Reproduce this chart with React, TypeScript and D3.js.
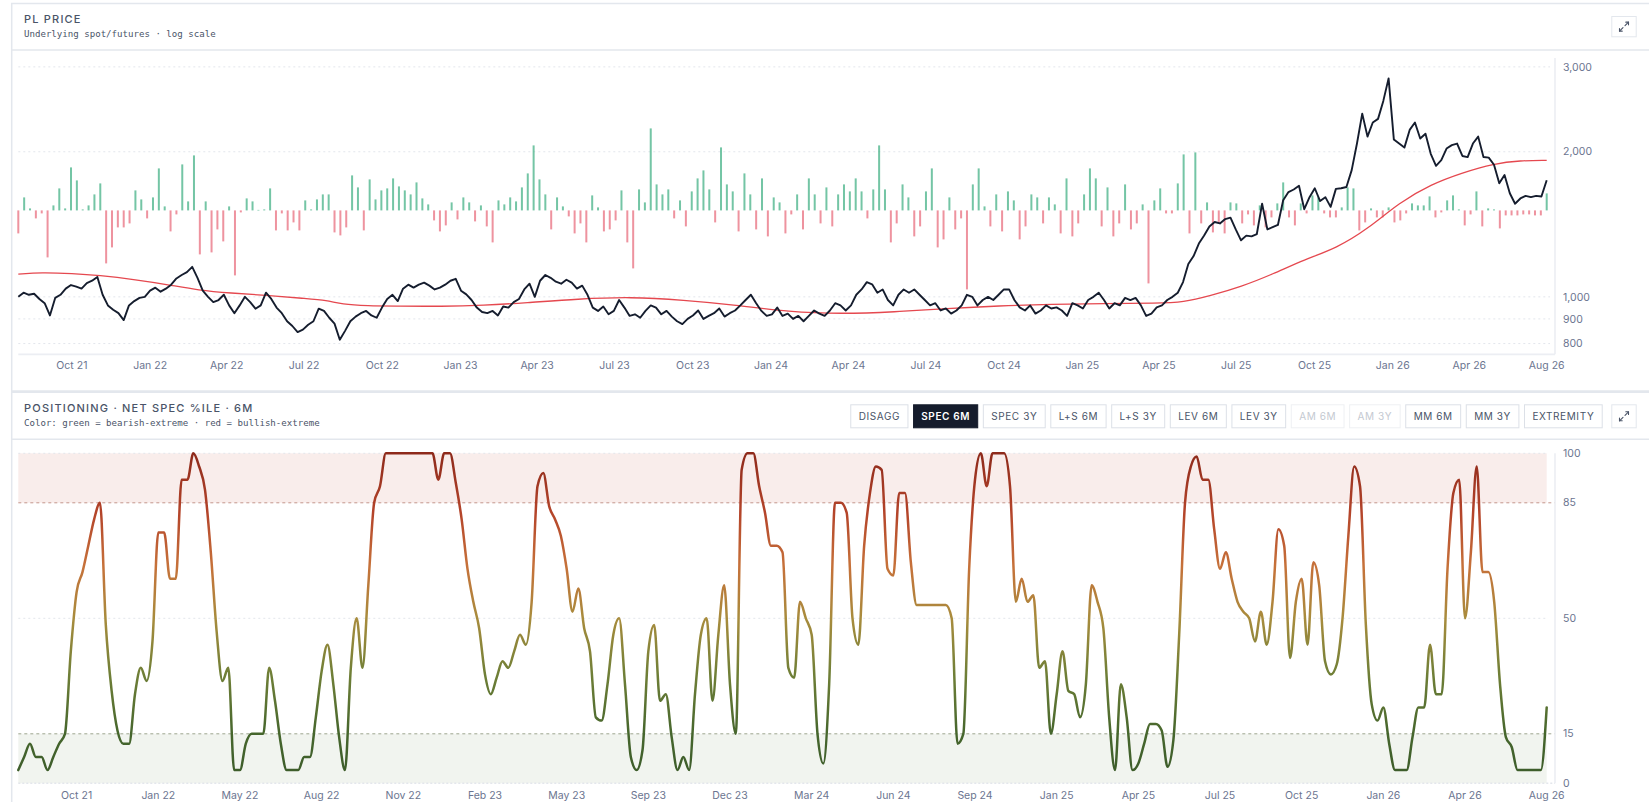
import React, { useMemo } from "react";
import * as d3 from "d3";

const W = 1649;
const H = 802;

// ---------- PRICE PANEL DATA ----------
const priceStart = "2021-07-30";
const priceEnd = "2026-07-01";

// PL price, sampled evenly across the window
const priceValues = [
  1000, 1020, 1010, 1015, 990, 970, 915, 995, 1010, 1040, 1058, 1050, 1040, 1068, 1080, 1100, 1010, 960, 940, 925,
  895, 960, 980, 995, 1000, 1030, 1045, 1025, 1040, 1060, 1092, 1110, 1125, 1154, 1095, 1030, 1000, 975, 985, 1010,
  960, 925, 960, 1000, 975, 945, 960, 1020, 990, 950, 925, 890, 870, 845, 855, 875, 890, 945, 935, 905,
  880, 815, 850, 890, 910, 925, 935, 915, 905, 950, 990, 1010, 980, 1040, 1060, 1045, 1060, 1070, 1055, 1036,
  1045, 1060, 1080, 1090, 1030, 1012, 985, 950, 930, 925, 935, 915, 955, 950, 975, 990, 1036, 1065, 1000, 1080,
  1110, 1095, 1075, 1065, 1085, 1070, 1040, 1055, 1010, 950, 935, 955, 920, 935, 985, 950, 913, 920, 905, 935,
  960, 950, 920, 935, 910, 890, 878, 900, 915, 937, 900, 913, 925, 946, 910, 925, 937, 960, 985, 1010,
  970, 935, 913, 920, 950, 913, 923, 900, 913, 890, 913, 937, 923, 913, 937, 970, 960, 937, 960, 1010,
  1036, 1073, 1062, 1020, 1036, 985, 960, 1010, 1036, 1020, 1036, 1010, 985, 960, 970, 937, 946, 923, 937, 960,
  1010, 1000, 960, 985, 1000, 985, 1010, 1036, 1036, 985, 951, 937, 960, 923, 937, 960, 946, 951, 937, 913,
  970, 960, 946, 985, 1000, 1020, 985, 946, 970, 960, 995, 985, 995, 960, 913, 923, 951, 960, 985, 1000,
  1020, 1073, 1170, 1215, 1290, 1340, 1400, 1430, 1420, 1450, 1460, 1380, 1310, 1340, 1335, 1350, 1560, 1380, 1395, 1410,
  1587, 1650, 1670, 1700, 1520, 1610, 1680, 1580, 1610, 1537, 1675, 1680, 1690, 1832, 2080, 2400, 2150, 2300, 2340, 2550,
  2840, 2120, 2080, 2040, 2220, 2300, 2131, 2180, 1980, 1870, 1921, 2031, 2064, 2080, 1960, 1950, 2080, 2150, 1951, 1945,
  1880, 1720, 1790, 1640, 1560, 1600, 1620, 1610, 1620, 1615, 1745,
];

// 200-day moving average
const maDates = [
  "2021-07-30", "2021-08-26", "2021-10-02", "2021-11-01", "2021-12-16", "2022-01-22", "2022-02-27", "2022-04-06",
  "2022-05-16", "2022-07-02", "2022-07-28", "2022-08-14", "2022-09-14", "2022-10-17", "2022-12-10", "2023-01-28",
  "2023-03-19", "2023-05-19", "2023-07-20", "2023-09-20", "2023-11-21", "2024-01-22", "2024-03-24", "2024-05-25",
  "2024-07-26", "2024-09-25", "2024-11-26", "2025-01-27", "2025-03-30", "2025-04-30", "2025-05-31", "2025-07-07",
  "2025-08-13", "2025-09-19", "2025-10-27", "2025-12-03", "2026-01-09", "2026-02-15", "2026-03-24", "2026-04-30",
  "2026-05-31", "2026-07-01",
];
const maValues = [
  1115, 1124, 1118, 1109, 1085, 1060, 1032, 1018, 1008, 992, 984, 965, 958, 957, 955, 960,
  972, 990, 1000, 985, 962, 930, 922, 930, 946, 958, 965, 968, 970, 975, 1005, 1050,
  1115, 1195, 1262, 1385, 1570, 1712, 1810, 1890, 1918, 1920,
];

// weekly change in net spec positioning (k contracts)
const flowValues = [
  -2.3, 1.3, 0.2, -0.8, -0.3, -4.7, 0.5, 2.2, 0.2, 4.3, 3.0, 0.1, 0.5, 1.6, 2.7, -5.3, -3.7, -1.7, -1.7, -1.3,
  2.0, 1.1, -0.8, 1.3, 4.2, 0.4, -2.1, -0.4, 4.6, 0.9, 5.5, -4.4, 0.9, -4.2, -1.9, -3.1, 0.4, -6.5, -0.2, 1.2,
  0.9, 0.05, 0.1, 2.2, -2.0, -0.3, -2.0, -1.2, -2.0, 1.0, 0.1, 1.1, 1.6, 1.6, -2.2, -2.5, -1.7, 3.5, 2.3, -2.0,
  3.1, 1.1, 2.0, 2.2, 3.2, 2.4, 2.0, 1.6, 2.8, 1.2, 0.6, -1.0, -2.1, -1.5, 0.8, -0.9, 1.3, 0.8, -1.1, 0.5,
  -1.6, -3.2, 1.0, 0.6, 1.3, 0.9, 2.3, 3.7, 6.5, 3.1, 1.6, -1.9, 1.3, 0.4, -0.6, -2.3, -1.3, -3.2, 1.5, 0.3,
  -2.1, -1.9, -1.0, 2.0, -3.2, -5.8, 2.1, 0.8, 8.2, 2.6, 1.6, 2.1, -0.8, 1.0, -1.6, 1.9, 3.2, 4.0, 2.1, -1.2,
  6.3, 2.6, 1.9, -2.1, 3.7, 1.6, -1.9, 3.2, -2.6, 1.3, 0.8, -2.3, -0.4, 1.6, -1.9, 3.2, 1.6, -1.3, 2.3, -1.6,
  1.6, 2.6, 1.9, 3.2, 1.9, -0.8, 2.1, 6.5, 2.1, -3.2, -1.3, 2.6, 1.3, -2.6, -1.6, 1.9, 4.2, -3.7, -2.9, 1.3,
  -1.9, -0.8, -7.9, 2.6, 4.2, 0.4, -1.6, 1.6, -2.1, 1.9, 1.0, -2.9, -1.6, 1.6, 1.3, -1.3, 1.3, 0.6, -2.3, 3.2,
  -2.6, -1.3, 1.6, 4.2, 3.2, -1.6, 2.3, -2.6, -1.3, 2.6, -1.9, -1.3, 0.6, -7.3, 1.0, 2.2, -0.3, -0.3, 2.7, 5.6,
  -2.3, 5.8, -1.3, 0.8, -2.2, -1.3, -2.3, 0.8, 0.7, -1.3, -0.4, -1.5, 0.5, -1.7, -0.7, 0.7, 2.8, -0.7, -1.5, 0.7,
  -0.3, 1.5, 1.3, -0.3, -0.7, -0.7, 0.3, 2.3, 2.2, -2.0, -1.2, 0.2, -0.7, -0.7, 0.3, -1.2, -1.0, -0.3, 0.7, 0.5,
  0.5, 1.4, -0.7, -0.2, 1.0, 1.5, 0.1, -1.5, -0.4, 1.9, -1.6, 0.2, 0.1, -1.8, -0.5, -0.5, -0.5, -0.4, -0.4, -0.5,
  -0.5, 1.7,
];

const priceTickDates = [
  "2021-10-01", "2022-01-01", "2022-04-01", "2022-07-01", "2022-10-01", "2023-01-01", "2023-04-01",
  "2023-07-01", "2023-10-01", "2024-01-01", "2024-04-01", "2024-07-01", "2024-10-01", "2025-01-01",
  "2025-04-01", "2025-07-01", "2025-10-01", "2026-01-01", "2026-04-01", "2026-07-01",
];
const priceTickLabels = [
  "Oct 21", "Jan 22", "Apr 22", "Jul 22", "Oct 22", "Jan 23", "Apr 23", "Jul 23", "Oct 23", "Jan 24",
  "Apr 24", "Jul 24", "Oct 24", "Jan 25", "Apr 25", "Jul 25", "Oct 25", "Jan 26", "Apr 26", "Aug 26",
];
const priceYTicks = [800, 900, 1000, 2000, 3000];

// ---------- POSITIONING PANEL DATA ----------
// weekly net spec percentile (6M window)
const pctValues = [
  4, 8, 12, 8, 8, 4, 8, 12, 15, 40, 58, 64, 72, 80, 85, 48, 28, 16, 12, 12,
  27, 35, 31, 43, 76, 76, 62, 62, 92, 92, 100, 96, 89, 70, 46, 31, 35, 4, 4, 12,
  15, 15, 15, 35, 25, 12, 4, 4, 4, 8, 8, 20, 34, 42, 30, 14, 4, 35, 50, 35,
  60, 85, 90, 100, 100, 100, 100, 100, 100, 100, 100, 100, 92, 100, 100, 91, 80, 65, 55, 47,
  33, 27, 32, 37, 35, 40, 45, 42, 55, 90, 94, 84, 80, 75, 65, 52, 59, 47, 40, 20,
  19, 30, 45, 50, 30, 8, 4, 10, 40, 48, 25, 27, 14, 4, 8, 4, 27, 45, 50, 25,
  45, 60, 30, 15, 95, 100, 100, 90, 82, 72, 72, 70, 35, 32, 55, 50, 45, 15, 6, 30,
  85, 85, 82, 50, 42, 72, 88, 96, 95, 65, 63, 88, 88, 67, 54, 54, 54, 54, 54, 54,
  50, 12, 15, 65, 92, 100, 90, 100, 100, 100, 90, 55, 62, 55, 57, 35, 37, 15, 27, 40,
  28, 27, 20, 30, 60, 55, 47, 20, 4, 30, 20, 4, 6, 12, 18, 18, 16, 5, 13, 45,
  85, 96, 99, 92, 92, 77, 65, 70, 62, 55, 52, 50, 43, 52, 42, 55, 77, 72, 38, 55,
  62, 42, 67, 60, 37, 33, 36, 50, 75, 96, 90, 48, 24, 19, 23, 12, 4, 4, 4, 14,
  23, 23, 42, 27, 27, 65, 88, 92, 50, 70, 96, 64, 64, 55, 30, 14, 11, 4, 4, 4,
  4, 4, 23,
];
const pctTickLabels = [
  "Oct 21", "Jan 22", "May 22", "Aug 22", "Nov 22", "Feb 23", "May 23", "Sep 23", "Dec 23", "Mar 24",
  "Jun 24", "Sep 24", "Jan 25", "Apr 25", "Jul 25", "Oct 25", "Jan 26", "Apr 26", "Aug 26",
];
const pctTickStep = 14;
const pctYTicks = [0, 15, 50, 85, 100];
const bearishCut = 15;
const bullishCut = 85;

const buttonLabels = ["DISAGG", "SPEC 6M", "SPEC 3Y", "L+S 6M", "L+S 3Y", "LEV 6M", "LEV 3Y", "AM 6M", "AM 3Y", "MM 6M", "MM 3Y", "EXTREMITY"];
const activeButton = "SPEC 6M";
const disabledButtons = ["AM 6M", "AM 3Y"];

// ---------- STYLE ----------
const SANS = "Inter, 'Noto Sans', 'DejaVu Sans', sans-serif";
const MONO = "'DejaVu Sans Mono', 'Liberation Mono', monospace";
const BORDER = "#e3e7ed";
const AXIS_TXT = "#6b7590";
const HEAD_TXT = "#4a5468";

const plotL = 18.3;
const plotR = 1546.7;
const axisX = 1555;
const labelX = 1563;
const topY0 = 58;
const topY1 = 354.3;
const barBase = 210.4;
const botY0 = 453.3;
const botY1 = 783.3;

function ExpandButton({ x, y, w, h }: { x: number; y: number; w: number; h: number }) {
  const cx = x + w / 2;
  const cy = y + h / 2;
  return (
    <g>
      <rect x={x + 0.5} y={y + 0.5} width={w - 1} height={h - 1} fill="#fff" stroke={BORDER} strokeWidth={1} />
      <g stroke={HEAD_TXT} strokeWidth={1.1} fill="none" strokeLinecap="round" strokeLinejoin="round">
        <path d={`M${cx + 1},${cy - 1} L${cx + 4.5},${cy - 4.5}`} />
        <path d={`M${cx + 1.8},${cy - 4.5} L${cx + 4.5},${cy - 4.5} L${cx + 4.5},${cy - 1.8}`} />
        <path d={`M${cx - 1},${cy + 1} L${cx - 4.5},${cy + 4.5}`} />
        <path d={`M${cx - 4.5},${cy + 1.8} L${cx - 4.5},${cy + 4.5} L${cx - 1.8},${cy + 4.5}`} />
      </g>
    </g>
  );
}

export default function App() {
  const parse = d3.timeParse("%Y-%m-%d");
  const t0 = parse(priceStart) as Date;
  const t1 = parse(priceEnd) as Date;

  const x = d3.scaleTime().domain([t0, t1]).range([plotL, plotR]);
  const y = d3.scaleLog().domain([760, 3130]).range([topY1, topY0]);
  const yBar = d3.scaleLinear().domain([-9, 9]).range([barBase + 90, barBase - 90]);

  const spread = (n: number) => (i: number) => new Date(+t0 + (i / (n - 1)) * (+t1 - +t0));
  const priceAt = spread(priceValues.length);
  const priceData = priceValues.map((v, i) => ({ d: priceAt(i), v }));
  const maData = maValues.map((v, i) => ({ d: parse(maDates[i]) as Date, v }));
  const flowAt = spread(flowValues.length);
  const flowData = flowValues.map((v, i) => ({ d: flowAt(i), v }));

  const priceLine = d3
    .line<{ d: Date; v: number }>()
    .x((p) => x(p.d))
    .y((p) => y(p.v))
    .curve(d3.curveLinear)(priceData) as string;
  const maLine = d3
    .line<{ d: Date; v: number }>()
    .x((p) => x(p.d))
    .y((p) => y(p.v))
    .curve(d3.curveBasis)(maData) as string;

  const nQ = pctValues.length;
  const xB = d3.scaleLinear().domain([0, nQ - 1]).range([plotL, plotR]);
  const yB = d3.scaleLinear().domain([0, 100]).range([botY1, botY0]);
  const pctLine = d3
    .line<number>()
    .x((_, i) => xB(i))
    .y((v) => yB(v))
    .curve(d3.curveMonotoneX)(pctValues) as string;

  const pctTicks = pctTickLabels.map((lab, j) => ({
    lab,
    idx: nQ - 1 - (pctTickLabels.length - 1 - j) * pctTickStep,
  }));

  const fmt = d3.format(",");

  // buttons layout (right aligned)
  const buttons = useMemo(() => {
    let measure = (s: string) => s.length * 6.6;
    try {
      const ctx = document.createElement("canvas").getContext("2d");
      if (ctx) {
        ctx.font = `400 10px Inter`;
        measure = (s: string) => ctx.measureText(s).width;
      }
    } catch (e) {}
    const ls = 0.6;
    const pad = 8.7;
    const gap = 4.6;
    const widths = buttonLabels.map((b) => measure(b) + ls * (b.length - 1) + pad * 2);
    let right = 1602.7;
    const out: { label: string; x: number; w: number }[] = [];
    for (let i = buttonLabels.length - 1; i >= 0; i--) {
      const w = widths[i];
      out.unshift({ label: buttonLabels[i], x: right - w, w });
      right = right - w - gap;
    }
    return out;
  }, []);

  return (
    <div style={{ position: "absolute", left: 0, top: 0, width: W, height: H, background: "#fff", overflow: "hidden" }}>
      <svg width={W} height={H} style={{ display: "block" }}>
        <defs>
          <linearGradient id="pctGrad" gradientUnits="userSpaceOnUse" x1={0} x2={0} y1={yB(0)} y2={yB(100)}>
            <stop offset="0" stopColor="#3b5a2a" />
            <stop offset="0.15" stopColor="#46662d" />
            <stop offset="0.33" stopColor="#6f7f37" />
            <stop offset="0.5" stopColor="#a88c3d" />
            <stop offset="0.66" stopColor="#c6713a" />
            <stop offset="0.82" stopColor="#b4442a" />
            <stop offset="1" stopColor="#8e2a1b" />
          </linearGradient>
        </defs>

        {/* cards */}
        <line x1={11.7} x2={11.7} y1={3} y2={H} stroke={BORDER} strokeWidth={1.5} />
        <line x1={11} x2={W} y1={3.5} y2={3.5} stroke={BORDER} strokeWidth={1.5} />
        <line x1={11} x2={W} y1={50} y2={50} stroke={BORDER} strokeWidth={1.5} />
        <line x1={11} x2={W} y1={391.6} y2={391.6} stroke={BORDER} strokeWidth={2.6} />
        <line x1={11} x2={W} y1={439.3} y2={439.3} stroke={BORDER} strokeWidth={1.5} />

        {/* top header */}
        <text x={24} y={23.2} fontFamily={SANS} fontSize={11} fontWeight={500} letterSpacing={1.2} fill={HEAD_TXT}>
          PL PRICE
        </text>
        <text x={24} y={37.4} fontFamily={MONO} fontSize={9.1} fill={HEAD_TXT}>
          Underlying spot/futures · log scale
        </text>
        <ExpandButton x={1611.3} y={16} w={25.4} h={21.3} />

        {/* top plot grid */}
        {priceYTicks.map((t) => (
          <g key={t}>
            <line x1={plotL} x2={1550} y1={y(t)} y2={y(t)} stroke="#e3e6ec" strokeWidth={1} strokeDasharray="2,3" />
            <text x={labelX} y={y(t)} dy="0.35em" fontFamily={SANS} fontSize={10.5} fill={AXIS_TXT}>
              {fmt(t)}
            </text>
          </g>
        ))}
        <line x1={axisX} x2={axisX} y1={topY0} y2={topY1} stroke="#eceef3" strokeWidth={1.6} />
        <line x1={plotL} x2={axisX} y1={topY1} y2={topY1} stroke="#eceef3" strokeWidth={1.8} />

        {/* flow bars */}
        {flowData.map((b, i) => (
          <rect
            key={i}
            x={x(b.d) - 1}
            width={2}
            y={Math.min(yBar(b.v), yBar(0))}
            height={Math.max(0.6, Math.abs(yBar(b.v) - yBar(0)))}
            fill={b.v >= 0 ? "#3fae82" : "#e8697a"}
            fillOpacity={0.72}
          />
        ))}

        {/* MA + price */}
        <path d={maLine} fill="none" stroke="#e5484f" strokeWidth={1.3} />
        <path d={priceLine} fill="none" stroke="#151d2e" strokeWidth={1.9} strokeLinejoin="round" />

        {/* top x labels */}
        {priceTickDates.map((ds, i) => (
          <text
            key={ds}
            x={x(parse(ds) as Date)}
            y={365.7}
            dy="0.35em"
            textAnchor="middle"
            fontFamily={SANS}
            fontSize={10.5}
            fill={AXIS_TXT}
          >
            {priceTickLabels[i]}
          </text>
        ))}

        {/* bottom header */}
        <text x={24} y={412.2} fontFamily={SANS} fontSize={11} fontWeight={500} letterSpacing={1.2} fill={HEAD_TXT}>
          POSITIONING · NET SPEC %ILE · 6M
        </text>
        <text x={24} y={426} fontFamily={MONO} fontSize={9.1} fill={HEAD_TXT}>
          Color: green = bearish-extreme · red = bullish-extreme
        </text>
        {buttons.map((b) => {
          const active = b.label === activeButton;
          const disabled = disabledButtons.includes(b.label);
          return (
            <g key={b.label}>
              <rect
                x={b.x + 0.5}
                y={404.8}
                width={b.w - 1}
                height={23}
                fill={active ? "#151c2c" : "#fff"}
                stroke={active ? "#151c2c" : disabled ? "#eef0f3" : "#dce0e7"}
                strokeWidth={1}
              />
              <text
                x={b.x + b.w / 2}
                y={416.7}
                dy="0.36em"
                textAnchor="middle"
                fontFamily={SANS}
                fontSize={10}
                fontWeight={active ? 600 : 400}
                letterSpacing={0.6}
                fill={active ? "#ffffff" : disabled ? "#c4c9d1" : HEAD_TXT}
              >
                {b.label}
              </text>
            </g>
          );
        })}
        <ExpandButton x={1611.3} y={404.3} w={25.4} h={24} />

        {/* bottom plot bands */}
        <rect x={plotL} width={plotR - plotL} y={yB(100)} height={yB(bullishCut) - yB(100)} fill="#f9edeb" />
        <rect x={plotL} width={plotR - plotL} y={yB(bearishCut)} height={yB(0) - yB(bearishCut)} fill="#f1f4ef" />
        <line x1={plotL} x2={plotR} y1={yB(100)} y2={yB(100)} stroke="#e3e6ec" strokeDasharray="2,3" />
        <line x1={plotL} x2={plotR} y1={yB(50)} y2={yB(50)} stroke="#e3e6ec" strokeDasharray="2,3" />
        <line x1={plotL} x2={axisX} y1={yB(bullishCut)} y2={yB(bullishCut)} stroke="#c4968c" strokeDasharray="3,3" />
        <line x1={plotL} x2={axisX} y1={yB(bearishCut)} y2={yB(bearishCut)} stroke="#9ea58f" strokeDasharray="3,3" />
        <line x1={plotL} x2={axisX} y1={yB(0)} y2={yB(0)} stroke="#e3e6ec" strokeWidth={1.4} strokeDasharray="2,2" />
        <line x1={axisX} x2={axisX} y1={yB(100)} y2={yB(0)} stroke="#eceef3" strokeWidth={1.6} />
        {pctYTicks.map((t) => (
          <text key={t} x={labelX} y={yB(t)} dy="0.35em" fontFamily={SANS} fontSize={10.5} fill={AXIS_TXT}>
            {t}
          </text>
        ))}

        <path d={pctLine} fill="none" stroke="url(#pctGrad)" strokeWidth={2.5} strokeLinejoin="round" strokeLinecap="round" />

        {pctTicks.map((t) => (
          <text
            key={t.lab + t.idx}
            x={xB(t.idx)}
            y={795}
            dy="0.35em"
            textAnchor="middle"
            fontFamily={SANS}
            fontSize={10.5}
            fill={AXIS_TXT}
          >
            {t.lab}
          </text>
        ))}
      </svg>
    </div>
  );
}
